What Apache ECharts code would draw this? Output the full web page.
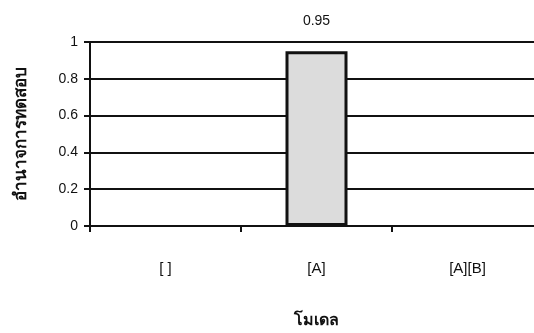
<!DOCTYPE html>
<html><head><meta charset="utf-8">
<script src="https://cdn.jsdelivr.net/npm/echarts@6/dist/echarts.min.js"></script>
<style>html,body{margin:0;padding:0;background:#fff}#c{width:534px;height:333px}</style>
</head><body><div id="c"></div>
<script>
var categories = ['[ ]', '[A]', '[A][B]'];
var values = [null, 0.95, null];
var yTicks = [0, 0.2, 0.4, 0.6, 0.8, 1];
var yName = 'อำนาจการทดสอบ';
var xName = 'โมเดล';

var chart = echarts.init(document.getElementById('c'));
chart.setOption({
  animation: false,
  backgroundColor: '#fff',
  grid: { left: 90, top: 42, bottom: 107, width: 453, outerBoundsMode: 'none', containLabel: false },
  xAxis: {
    type: 'category', data: categories,
    name: xName, nameLocation: 'middle', nameGap: 86,
    nameTextStyle: { color: '#111', fontSize: 16, fontWeight: 'bold', fontFamily: 'Noto Sans, sans-serif' },
    axisLine: { lineStyle: { color: '#111', width: 2 } },
    axisTick: { show: true, length: 6, lineStyle: { color: '#111', width: 2 } },
    axisLabel: { color: '#111', fontSize: 15, margin: 35, fontFamily: 'Liberation Sans, Arial, sans-serif' }
  },
  yAxis: {
    type: 'value', min: 0, max: 1, interval: 0.2,
    name: yName, nameLocation: 'middle', nameGap: 60, nameRotate: 90,
    nameTextStyle: { color: '#111', fontSize: 17, fontWeight: 'bold', fontFamily: 'Noto Sans, sans-serif' },
    axisLine: { show: true, lineStyle: { color: '#111', width: 2 } },
    axisTick: { show: true, length: 6, lineStyle: { color: '#111', width: 2 } },
    axisLabel: { color: '#111', fontSize: 14, margin: 12, fontFamily: 'Liberation Sans, Arial, sans-serif',
      formatter: function (v) { var r = Math.round(v * 10) / 10; return yTicks.indexOf(r) >= 0 ? String(r) : ''; } },
    splitLine: { show: true, lineStyle: { color: '#111', width: 2 } }
  },
  series: [{
    type: 'bar', data: values, barWidth: 62,
    itemStyle: { color: '#dcdcdc', borderColor: '#111', borderWidth: 3 },
    label: { show: true, position: 'top', distance: 23, color: '#111', fontSize: 14, fontFamily: 'Liberation Sans, Arial, sans-serif',
      formatter: function (p) { return p.value.toFixed(2); } }
  }]
});
</script></body></html>
